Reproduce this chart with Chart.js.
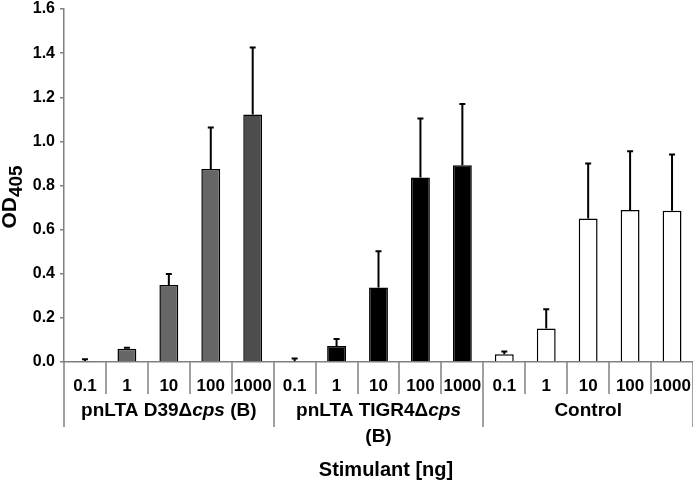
<!DOCTYPE html>
<html>
<head>
<meta charset="utf-8">
<script src="https://cdn.jsdelivr.net/npm/chart.js@4.4.1/dist/chart.umd.min.js"></script>
<style>
  html, body { margin: 0; padding: 0; background: #fff; }
  #wrap { width: 693px; height: 486px; }
</style>
</head>
<body>
<div id="wrap"><canvas id="myChart"></canvas></div>
<script>
var doses = ['0.1', '1', '10', '100', '1000'];
var groups = ['pnLTA D39\u0394cps (B)', 'pnLTA TIGR4\u0394cps (B)', 'Control'];

var d39Values = [0.005, 0.060, 0.349, 0.875, 1.122];
var d39Errors = [0.007, 0.005, 0.050, 0.188, 0.303];
var tigr4Values = [0.003, 0.072, 0.338, 0.836, 0.892];
var tigr4Errors = [0.013, 0.032, 0.164, 0.268, 0.277];
var controlValues = [0.035, 0.152, 0.650, 0.689, 0.685];
var controlErrors = [0.013, 0.087, 0.250, 0.266, 0.256];

var d39Colors = ['#666666', '#666666', '#666666', '#666666', '#4d4d4d'];
var tigr4Colors = ['#000000', '#000000', '#000000', '#000000', '#000000'];
var controlColors = ['#ffffff', '#ffffff', '#ffffff', '#ffffff', '#ffffff'];

var labels = doses.concat(doses, doses);
var values = d39Values.concat(tigr4Values, controlValues);
var errors = d39Errors.concat(tigr4Errors, controlErrors);
var colors = d39Colors.concat(tigr4Colors, controlColors);

const FONT = 'Liberation Sans, Arial, sans-serif';

// error bars + group labels + separators
const extras = {
    id: 'extras',
    afterDatasetsDraw(chart) {
        const ctx = chart.ctx;
        const y = chart.scales.y;
        const meta = chart.getDatasetMeta(0);
        ctx.save();
        ctx.strokeStyle = '#000';
        ctx.lineWidth = 2;
        for (let i = 0; i < values.length; i++) {
            const cx = meta.data[i].x;
            const y0 = y.getPixelForValue(values[i]);
            const y1 = y.getPixelForValue(values[i] + errors[i]);
            ctx.beginPath();
            ctx.moveTo(cx, y0);
            ctx.lineTo(cx, y1);
            ctx.moveTo(cx - 3, y1);
            ctx.lineTo(cx + 3, y1);
            ctx.stroke();
        }
        ctx.restore();
    },
    afterDraw(chart) {
        const ctx = chart.ctx;
        const area = chart.chartArea;
        const n = labels.length;
        const w = (area.right - area.left) / n;
        ctx.save();
        ctx.strokeStyle = '#808080';
        ctx.lineWidth = 1.5;
        for (let i = 0; i <= n; i++) {
            const px = Math.round(area.left + i * w);
            const long = (i % 5 === 0);
            ctx.beginPath();
            ctx.moveTo(px, area.bottom);
            ctx.lineTo(px, long ? area.bottom + 65 : area.bottom + 32);
            ctx.stroke();
        }
        ctx.fillStyle = '#000';
        ctx.textBaseline = 'middle';
        // group labels, "cps" in italics
        const parts = [
            [['pnLTA D39\u0394', ''], ['cps', 'italic '], [' (B)', '']],
            [['pnLTA TIGR4\u0394', ''], ['cps', 'italic ']],
            [['Control', '']]
        ];
        for (let g = 0; g < 3; g++) {
            const mid = area.left + (g * 5 + 2.5) * w;
            let total = 0;
            parts[g].forEach(p => { ctx.font = p[1] + 'bold 19px ' + FONT; total += ctx.measureText(p[0]).width; });
            let px = mid - total / 2;
            ctx.textAlign = 'left';
            parts[g].forEach(p => {
                ctx.font = p[1] + 'bold 19px ' + FONT;
                ctx.fillText(p[0], px, area.bottom + 49);
                px += ctx.measureText(p[0]).width;
            });
            if (g === 1) {
                ctx.font = 'bold 19px ' + FONT;
                ctx.textAlign = 'center';
                ctx.fillText('(B)', mid, area.bottom + 75);
            }
        }
        ctx.font = 'bold 20px ' + FONT;
        ctx.textAlign = 'center';
        ctx.fillText('Stimulant [ng]', 386, area.bottom + 108);
        // y title OD405 with subscript
        ctx.translate(10, 197);
        ctx.rotate(-Math.PI / 2);
        ctx.font = 'bold 21px ' + FONT;
        const odW = ctx.measureText('OD').width;
        ctx.font = 'bold 19px ' + FONT;
        const subW = ctx.measureText('405').width;
        let sx = -(odW + subW) / 2;
        ctx.textAlign = 'left';
        ctx.font = 'bold 21px ' + FONT;
        ctx.fillText('OD', sx, 0);
        ctx.font = 'bold 19px ' + FONT;
        ctx.fillText('405', sx + odW, 7);
        ctx.restore();
    }
};

const config = {
    type: 'bar',
    data: {
        labels: labels,
        datasets: [{
            data: values,
            backgroundColor: colors,
            borderColor: '#000000',
            borderWidth: 1.5,
            borderSkipped: 'bottom',
            categoryPercentage: 1.0,
            barPercentage: 0.45
        }]
    },
    options: {
        responsive: true,
        maintainAspectRatio: false,
        animation: false,
        layout: { padding: { left: 0, right: 0, top: 9, bottom: 0 } },
        plugins: {
            legend: { display: false },
            tooltip: { enabled: false }
        },
        scales: {
            x: {
                grid: { display: false, drawTicks: false },
                border: { color: '#808080', width: 1.5 },
                ticks: {
                    color: '#000',
                    font: { family: FONT, size: 17, weight: 'bold' },
                    maxRotation: 0,
                    autoSkip: false,
                    padding: 14
                },
                afterFit: function (scale) {
                    scale.height = 124;
                    scale.paddingLeft = 0;
                    scale.paddingRight = 0;
                }
            },
            y: {
                min: 0,
                max: 1.6,
                grid: { drawOnChartArea: false, drawTicks: true, tickLength: 4, color: '#808080', lineWidth: 1.5 },
                border: { color: '#808080', width: 1.5 },
                ticks: {
                    stepSize: 0.2,
                    color: '#000',
                    font: { family: FONT, size: 16, weight: 'bold' },
                    padding: 5,
                    callback: function (v) { return v.toFixed(1); }
                },
                afterFit: function (scale) {
                    scale.width = 64;
                    scale.paddingTop = 0;
                    scale.paddingBottom = 0;
                }
            }
        }
    },
    plugins: [extras]
};

const myChart = new Chart(document.getElementById('myChart'), config);
</script>
</body>
</html>
